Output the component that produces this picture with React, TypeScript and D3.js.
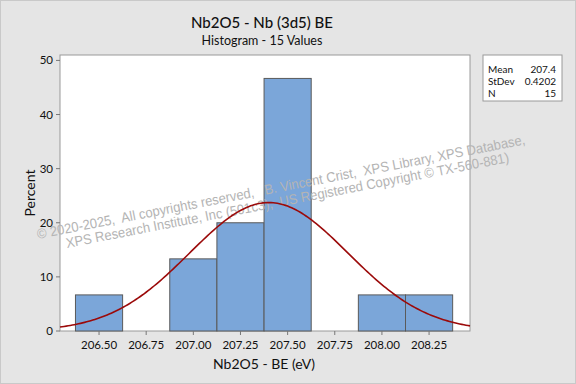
import * as React from 'react';
import * as d3 from 'd3';

const binCenters = [206.5, 206.75, 207.0, 207.25, 207.5, 207.75, 208.0, 208.25];
const binPercents = [6.67, 0, 13.33, 20, 46.67, 0, 6.67, 6.67];
const binWidth = 0.25;
const xTicks = [206.5, 206.75, 207.0, 207.25, 207.5, 207.75, 208.0, 208.25];
const yTicks = [0, 10, 20, 30, 40, 50];
const statLabels = ['Mean', 'StDev', 'N'];
const statValues = ['207.4', '0.4202', '15'];
const fitMean = 207.4;
const fitStDev = 0.4202;

const W = 576;
const H = 384;
const plot = { left: 60, right: 470, top: 55, bottom: 331 };
const font = 'Lato, "Noto Sans", sans-serif';
const sp = '\u00a0';

const App: React.FC = () => {
  const x = d3.scaleLinear().domain([206.293, 208.467]).range([plot.left, plot.right]);
  const y = d3.scaleLinear().domain([0, 51]).range([plot.bottom, plot.top]);

  // fitted normal curve, scaled to percent per bin
  const pdf = (v: number) =>
    (100 * binWidth / (fitStDev * Math.sqrt(2 * Math.PI))) *
    Math.exp(-0.5 * Math.pow((v - fitMean) / fitStDev, 2));
  const [d0, d1] = x.domain();
  const curveXs = d3.range(0, 201).map(i => d0 + (d1 - d0) * i / 200);
  const line = d3.line<number>().x(d => x(d)).y(d => y(pdf(d)));

  const wmAngle = -11;
  const wm1 = `© 2020-2025,${sp} All copyrights reserved,${sp}${sp} B. Vincent Crist,${sp} XPS Library, XPS Database,`;
  const wm2 = `XPS Research Institute, Inc (501c3),${sp} US Registered Copyright © TX-560-881)`;

  return (
    <>
      <style>{'body{margin:0}'}</style>
      <svg width={W} height={H} style={{ display: 'block' }}>
        <rect x={0.5} y={0.5} width={W - 1} height={H - 1} fill="#e5e5e5" stroke="#c9c9c9" />

        <text x={262} y={28} textAnchor="middle" fontFamily={font} fontSize={15} fontWeight={500} fill="#111">Nb2O5 - Nb (3d5) BE</text>
        <text x={262} y={45} textAnchor="middle" fontFamily={font} fontSize={12.5} fill="#111">Histogram - 15 Values</text>

        <rect x={plot.left} y={plot.top} width={plot.right - plot.left} height={plot.bottom - plot.top} fill="#fff" stroke="#9a9a9a" />

        {binCenters.map((c, i) =>
          binPercents[i] > 0 ? (
            <rect
              key={i}
              x={x(c - binWidth / 2)}
              y={y(binPercents[i])}
              width={x(c + binWidth / 2) - x(c - binWidth / 2)}
              height={y(0) - y(binPercents[i])}
              fill="#7ba6d9"
              stroke="#5a5a5a"
              strokeWidth={1}
            />
          ) : null
        )}

        <g fill="#b4b4b4" fontFamily='"Liberation Sans", Arial, sans-serif' fontSize={14}>
          <text transform={`translate(38,239) rotate(${wmAngle})`} textLength={497} lengthAdjust="spacingAndGlyphs">{wm1}</text>
          <text transform={`translate(67,248) rotate(${wmAngle})`} textLength={451} lengthAdjust="spacingAndGlyphs">{wm2}</text>
        </g>

        <path d={line(curveXs) || ''} fill="none" stroke="#9b0a0a" strokeWidth={1.6} />

        {yTicks.map(t => (
          <g key={t}>
            <line x1={plot.left - 4} x2={plot.left} y1={y(t)} y2={y(t)} stroke="#777" />
            <text x={plot.left - 7} y={y(t) + 4} textAnchor="end" fontFamily={font} fontSize={11.5} fill="#111">{t}</text>
          </g>
        ))}
        {xTicks.map(t => (
          <g key={t}>
            <line x1={x(t)} x2={x(t)} y1={plot.bottom} y2={plot.bottom + 4} stroke="#777" />
            <text x={x(t)} y={plot.bottom + 18} textAnchor="middle" fontFamily={font} fontSize={11.5} fill="#111">{d3.format('.2f')(t)}</text>
          </g>
        ))}

        <text x={264} y={369} textAnchor="middle" fontFamily={font} fontSize={14} fill="#111">Nb2O5 - BE (eV)</text>
        <text transform={`translate(35,193) rotate(-90)`} textAnchor="middle" fontFamily={font} fontSize={14} fill="#111">Percent</text>

        <rect x={483} y={55} width={79} height={46} fill="#fff" stroke="#9a9a9a" />
        {statLabels.map((s, i) => (
          <g key={s}>
            <text x={488} y={73 + i * 11.8} fontFamily={font} fontSize={10} fill="#111">{s}</text>
            <text x={556} y={73 + i * 11.8} textAnchor="end" fontFamily={font} fontSize={10} fill="#111">{statValues[i]}</text>
          </g>
        ))}
      </svg>
    </>
  );
};

export default App;
